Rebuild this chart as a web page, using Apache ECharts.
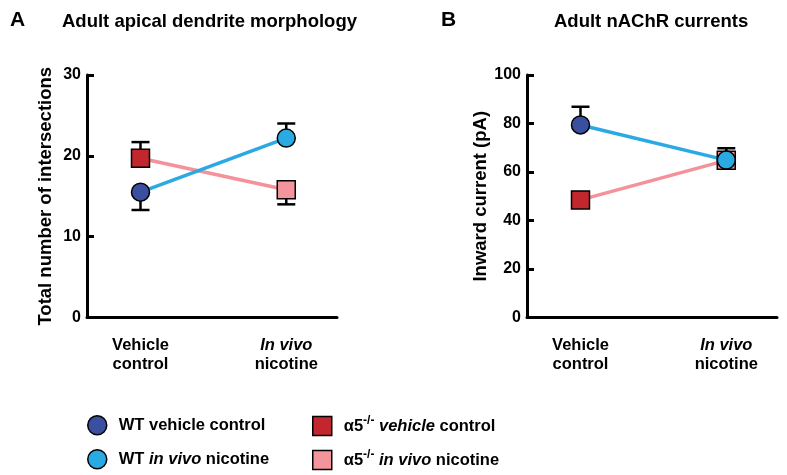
<!DOCTYPE html>
<html><head><meta charset="utf-8">
<script src="https://cdn.jsdelivr.net/npm/echarts@6/dist/echarts.min.js"></script>
<style>html,body{margin:0;padding:0;background:#fff}#c{width:787px;height:475px}</style>
</head><body><div id="c"></div>
<script>
// ---- data ----
const categories = ['Vehicle control', 'In vivo nicotine'];
const yTicksA = [0, 10, 20, 30];
const yTicksB = [0, 20, 40, 60, 80, 100];
// Panel A: total number of intersections (mean, signed SEM: sign = bar direction)
const wtA = [15.5, 22.2];
const wtAErr = [-2.2, 1.8];
const koA = [19.7, 15.8];
const koAErr = [2.0, -1.8];
// Panel B: inward current (pA)
const wtB = [79.4, 64.9];
const wtBErr = [7.5, 4.9];
const koB = [48.5, 64.8];
const koBErr = [-2.5, -2.5];
const legendNames = ['WT vehicle control', 'WT in vivo nicotine', 'α5-/- vehicle control', 'α5-/- in vivo nicotine'];

// ---- styles ----
const FONT = '"Liberation Sans", Arial, sans-serif';
const C_WT_VEH = '#3b4fa0', C_WT_NIC = '#2aaae2', C_KO_VEH = '#c1272d', C_KO_NIC = '#f4959d';
const LINE_WT = '#2aaae2', LINE_KO = '#f4919b';

const chart = echarts.init(document.getElementById('c'), null, {renderer: 'canvas'});

function xAxisFor(gi) {
  return {
    type: 'value', gridIndex: gi, min: -0.367, max: 1.348,
    axisLine: {show: true, onZero: false, lineStyle: {color: '#000', width: 3}},
    axisTick: {show: false}, splitLine: {show: false},
    axisLabel: {
      customValues: [0, 1], margin: 18, fontFamily: FONT, fontWeight: 'bold', fontSize: 16.5,
      color: '#000', lineHeight: 19, align: 'center',
      formatter: v => {
        const c = categories[Math.round(v)];
        if (c.startsWith('In vivo')) return '{i|In vivo}\n' + c.slice(8);
        const parts = c.split(' ');
        return parts[0] + '\n' + parts.slice(1).join(' ');
      },
      rich: {i: {fontStyle: 'italic', fontWeight: 'bold', fontSize: 16.5, fontFamily: FONT, color: '#000', lineHeight: 19}}
    }
  };
}
function yAxisFor(gi, ticks, name, gap) {
  return {
    type: 'value', gridIndex: gi, min: ticks[0], max: ticks[ticks.length - 1],
    interval: ticks[1] - ticks[0],
    name: name, nameLocation: 'middle', nameGap: gap,
    nameTextStyle: {fontFamily: FONT, fontWeight: 'bold', fontSize: 18.5, color: '#000'},
    axisLine: {show: true, onZero: false, lineStyle: {color: '#000', width: 3}},
    axisTick: {show: true, inside: true, length: 7, lineStyle: {color: '#000', width: 3}},
    splitLine: {show: false},
    axisLabel: {margin: 6, fontFamily: FONT, fontWeight: 'bold', fontSize: 16, color: '#000'}
  };
}
function errSeries(gi, means, errs) {
  return {
    type: 'custom', xAxisIndex: gi, yAxisIndex: gi, z: 3, silent: true,
    data: means.map((m, i) => [i, m, errs[i]]),
    encode: {x: 0, y: 1},
    renderItem: (params, api) => {
      const x = api.value(0), y = api.value(1), e = api.value(2);
      const p0 = api.coord([x, y]), p1 = api.coord([x, y + e]);
      const st = {stroke: '#000', lineWidth: 2.5};
      return {type: 'group', children: [
        {type: 'line', shape: {x1: p0[0], y1: p0[1], x2: p1[0], y2: p1[1]}, style: st},
        {type: 'line', shape: {x1: p1[0] - 9, y1: p1[1], x2: p1[0] + 9, y2: p1[1]}, style: st}
      ]};
    }
  };
}
function lineSeries(gi, vals, color, z) {
  return {type: 'line', xAxisIndex: gi, yAxisIndex: gi, z: z, symbol: 'none', silent: true,
    data: vals.map((v, i) => [i, v]), lineStyle: {color: color, width: 3.5}};
}
function pt(gi, name, idx, val, symbol, color, z) {
  return {type: 'scatter', name: name, xAxisIndex: gi, yAxisIndex: gi, z: z, symbol: symbol, symbolSize: 18,
    data: [[idx, val]], itemStyle: {color: color, borderColor: '#000', borderWidth: 1.5, opacity: 1}};
}
function panelSeries(gi, wt, wtE, ko, koE) {
  return [
    lineSeries(gi, ko, LINE_KO, 2), lineSeries(gi, wt, LINE_WT, 2),
    errSeries(gi, ko, koE), errSeries(gi, wt, wtE),
    pt(gi, legendNames[2], 0, ko[0], 'rect', C_KO_VEH, 5),
    pt(gi, legendNames[3], 1, ko[1], 'rect', C_KO_NIC, 5),
    pt(gi, legendNames[0], 0, wt[0], 'circle', C_WT_VEH, 6),
    pt(gi, legendNames[1], 1, wt[1], 'circle', C_WT_NIC, 6)
  ];
}
const legendRich = {
  i: {fontStyle: 'italic', fontWeight: 'bold', fontSize: 16.5, fontFamily: FONT, color: '#000'},
  sup: {fontWeight: 'bold', fontSize: 12, fontFamily: FONT, color: '#000', padding: [0, 0, 10, 0]}
};
function legendFmt(n) {
  let s = n.replace('-/-', '{sup|-/-}');
  if (s.startsWith('WT in vivo')) s = s.replace('in vivo', '{i|in vivo}');
  if (s.startsWith('α5')) s = s.replace(' vehicle ', ' {i|vehicle} ').replace(' in vivo ', ' {i|in vivo} ');
  return s;
}
function legendFor(left, top, name) {
  return {
    left: left, top: top, padding: 0, orient: 'vertical', itemWidth: 19, itemHeight: 19,
    data: [name], selectedMode: false,
    itemStyle: {borderColor: '#000', borderWidth: 1.5},
    formatter: legendFmt,
    textStyle: {fontFamily: FONT, fontWeight: 'bold', fontSize: 16.5, color: '#000', padding: [0, 0, 0, 7], rich: legendRich}
  };
}

chart.setOption({
  animation: false,
  backgroundColor: '#fff',
  title: [
    {text: 'A', left: 10, top: 10, padding: 0, textStyle: {fontFamily: FONT, fontWeight: 'bold', fontSize: 21, color: '#000'}},
    {text: 'Adult apical dendrite morphology', left: 62, top: 12, padding: 0, textStyle: {fontFamily: FONT, fontWeight: 'bold', fontSize: 18.5, color: '#000'}},
    {text: 'B', left: 441, top: 10, padding: 0, textStyle: {fontFamily: FONT, fontWeight: 'bold', fontSize: 21, color: '#000'}},
    {text: 'Adult nAChR currents', left: 554, top: 12, padding: 0, textStyle: {fontFamily: FONT, fontWeight: 'bold', fontSize: 18.5, color: '#000'}}
  ],
  legend: [
    legendFor(87, 415, legendNames[0]), legendFor(87, 449, legendNames[1]),
    legendFor(312, 415, legendNames[2]), legendFor(312, 449, legendNames[3])
  ],
  grid: [
    {left: 87, top: 75, width: 250, height: 242.5},
    {left: 527, top: 75, width: 250, height: 242.5}
  ],
  xAxis: [xAxisFor(0), xAxisFor(1)],
  yAxis: [yAxisFor(0, yTicksA, 'Total number of intersections', 31.5), yAxisFor(1, yTicksB, 'Inward current (pA)', 33.5)],
  series: [...panelSeries(0, wtA, wtAErr, koA, koAErr), ...panelSeries(1, wtB, wtBErr, koB, koBErr)]
});
</script></body></html>
